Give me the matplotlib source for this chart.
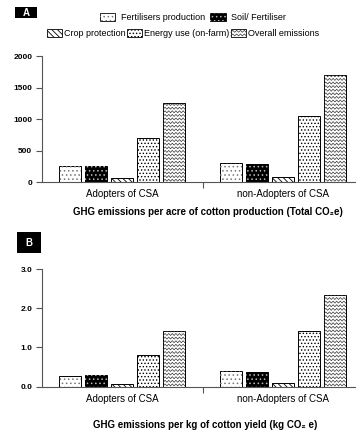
import numpy as np
import matplotlib
matplotlib.use("Agg")
import matplotlib.pyplot as plt
from matplotlib.patches import Patch, Rectangle
from matplotlib.lines import Line2D
from matplotlib.legend_handler import HandlerBase

plt.rcParams['font.family'] = ['Liberation Sans', 'DejaVu Sans']
plt.rcParams['hatch.linewidth'] = 0.6

categories = ["Adopters of CSA", "non-Adopters of CSA"]
series = ["Fertilisers production", "Soil/ Fertiliser", "Crop protection",
          "Energy use (on-farm)", "Overall emissions"]

# panel A: per acre (Total CO2e)
acre_fert = [250, 300]
acre_soil = [250, 280]
acre_crop = [65, 85]
acre_energy = [700, 1050]
acre_overall = [1260, 1700]

# panel B: per kg of cotton yield
kg_fert = [0.27, 0.40]
kg_soil = [0.29, 0.38]
kg_crop = [0.06, 0.10]
kg_energy = [0.80, 1.43]
kg_overall = [1.42, 2.35]

W, H = 356, 434
fig = plt.figure(figsize=(W / 100, H / 100), dpi=100)
ax_a = fig.add_axes([42 / W, 1 - 182 / H, 314 / W, 126 / H])
ax_b = fig.add_axes([42 / W, 1 - 386.7 / H, 314 / W, 117.7 / H])

x = np.arange(len(categories))
offsets = np.array([-2, -1, 0, 1, 2]) * 0.1615
bar_w = 0.137
edge = dict(edgecolor='black', lw=0.7)
energy_hatch = '.....'


def wave_fill(ax, bar, step=3.6, period=3.6, amp=1.0):
    # zigzag texture, spacing given in pixels
    xpp = np.diff(ax.get_xlim())[0] / ax.bbox.width
    ypp = np.diff(ax.get_ylim())[0] / ax.bbox.height
    x0, y0 = bar.get_x(), bar.get_y()
    w, h = bar.get_width(), bar.get_height()
    n = int(w / xpp / (period / 2)) + 2
    xs = x0 + np.arange(n) * (period / 2) * xpp
    zig = np.where(np.arange(n) % 2 == 0, -amp, amp) * ypp
    for yy in np.arange(y0 + step * ypp / 2, y0 + h + step * ypp, step * ypp):
        line, = ax.plot(xs, yy + zig, color='#333333', lw=0.5)
        line.set_clip_path(bar)


def draw_panel(ax, fert, soil, crop, energy, overall, ymax, yticks, ylabels):
    ax.set_xlim(-0.5, 1.453)
    ax.set_ylim(0, ymax)
    ax.bar(x + offsets[0], fert, bar_w, color='white', **edge)
    ax.bar(x + offsets[0], fert, bar_w, color='none', edgecolor='#777777', hatch='....', lw=0)
    ax.bar(x + offsets[1], soil, bar_w, color='black', **edge)
    ax.bar(x + offsets[1], soil, bar_w, color='none', edgecolor='#bbbbbb', hatch='....', lw=0)
    ax.bar(x + offsets[2], crop, bar_w, color='white', hatch='\\' * 6, **edge)
    ax.bar(x + offsets[3], energy, bar_w, color='white', hatch=energy_hatch, **edge)
    bars = ax.bar(x + offsets[4], overall, bar_w, color='white', **edge)
    for b in bars:
        wave_fill(ax, b)

    for s in ['top', 'right']:
        ax.spines[s].set_visible(False)
    for s in ['left', 'bottom']:
        ax.spines[s].set_color('#555555')
        ax.spines[s].set_linewidth(0.8)
    ax.spines['left'].set_bounds(0, ymax)

    ax.set_xticks(x)
    ax.set_xticklabels(categories, fontsize=7)
    ax.set_xticks([0.5], minor=True)
    ax.tick_params(axis='x', which='major', length=0, pad=5)
    ax.tick_params(axis='x', which='minor', length=4, width=0.8, color='#555555')
    ax.set_yticks(yticks)
    ax.set_yticklabels(ylabels, fontsize=6, fontweight='bold')
    ax.tick_params(axis='y', length=4, width=0.8, color='#555555', pad=3)


draw_panel(ax_a, acre_fert, acre_soil, acre_crop, acre_energy, acre_overall,
           2000, [0, 500, 1000, 1500, 2000], ['0', '500', '1000', '1500', '2000'])
draw_panel(ax_b, kg_fert, kg_soil, kg_crop, kg_energy, kg_overall,
           3.0, [0, 1, 2, 3], ['0.0', '1.0', '2.0', '3.0'])

fig.text(208 / W, 1 - 212 / H, "GHG emissions per acre of cotton production (Total CO₂e)",
         ha='center', va='center', fontsize=7, fontweight='bold')
fig.text(205 / W, 1 - 425 / H, "GHG emissions per kg of cotton yield (kg CO₂ e)",
         ha='center', va='center', fontsize=7, fontweight='bold')


class WaveHandler(HandlerBase):
    def create_artists(self, legend, orig_handle, xdescent, ydescent,
                       width, height, fontsize, trans):
        x0, y0 = -xdescent, -ydescent
        rect = Rectangle((x0, y0), width, height, facecolor='white',
                         edgecolor='black', lw=0.6, transform=trans)
        arts = [rect]
        n = int(width / 1.3)
        xs = x0 + np.linspace(0, width, n + 1)
        zig = np.where(np.arange(n + 1) % 2 == 0, -0.7, 0.7)
        for yy in np.arange(y0 + 1.5, y0 + height - 1.0, 2.6):
            arts.append(Line2D(xs, yy + zig, color='#333333', lw=0.5, transform=trans))
        return arts


h_fert = (Patch(facecolor='white', edgecolor='black', lw=0.6),
          Patch(facecolor='none', edgecolor='#777777', hatch='....', lw=0))
h_soil = (Patch(facecolor='black', edgecolor='black', lw=0.6),
          Patch(facecolor='none', edgecolor='#bbbbbb', hatch='....', lw=0))
h_crop = Patch(facecolor='white', edgecolor='black', hatch='\\' * 6, lw=0.6)
h_energy = Patch(facecolor='white', edgecolor='black', hatch=energy_hatch, lw=0.6)
h_overall = Patch(facecolor='white', edgecolor='black', lw=0.6)

common = dict(loc='center left', frameon=False, fontsize=6.5, handlelength=1.7,
              handleheight=1.0, borderpad=0, borderaxespad=0)
fig.legend([h_fert, h_soil], series[:2], ncol=2,
           bbox_to_anchor=(100 / W, 1 - 17.5 / H),
           handletextpad=0.6, columnspacing=0.6, **common)
fig.legend([h_crop, h_energy, h_overall], series[2:], ncol=3,
           bbox_to_anchor=(47 / W, 1 - 33.5 / H),
           handletextpad=0.15, columnspacing=0.2,
           handler_map={h_overall: WaveHandler()}, **common)

# panel letters
for lab, (bx, by, bw, bh) in [("A", (15, 7, 22, 11)), ("B", (17, 232, 24, 21))]:
    fig.patches.append(Rectangle((bx / W, 1 - (by + bh) / H), bw / W, bh / H,
                                 facecolor='black', transform=fig.transFigure))
    fig.text((bx + bw / 2) / W, 1 - (by + bh / 2) / H, lab, color='white',
             ha='center', va='center', fontsize=7, fontweight='bold')

fig.savefig("out.png", dpi=100)
